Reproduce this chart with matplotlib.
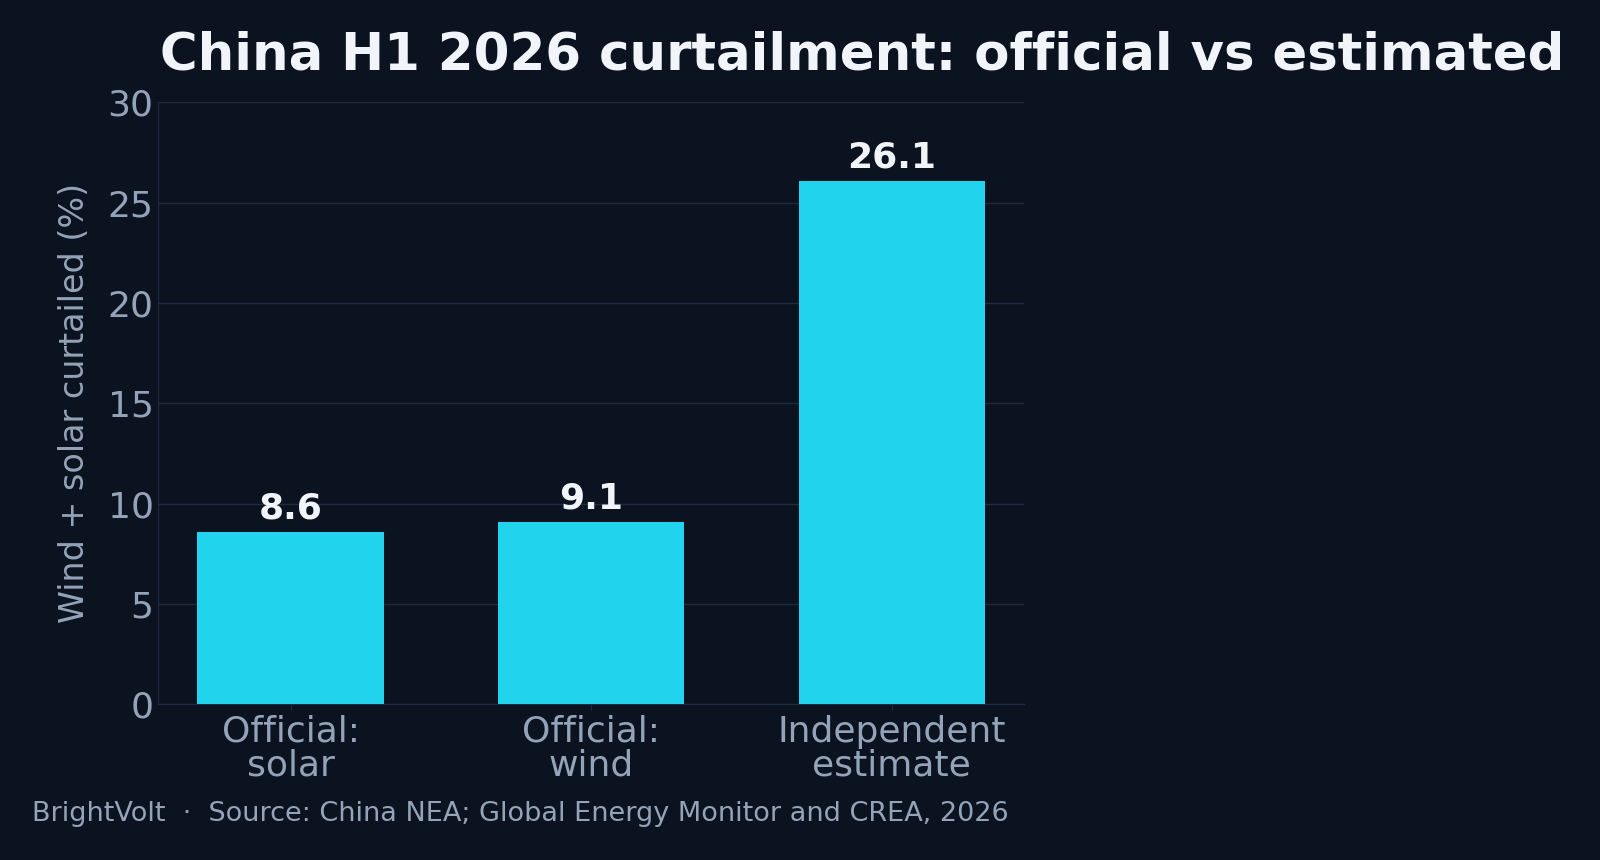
import matplotlib.pyplot as plt

categories = ['Official:\nsolar', 'Official:\nwind', 'Independent\nestimate']
values = [8.6, 9.1, 26.1]
yticks = [0, 5, 10, 15, 20, 25, 30]

bg = '#0b1320'
bar_color = '#22d3ee'
grid_color = '#1e2b42'
muted = '#94a3b8'
bright = '#f1f5f9'

fig = plt.figure(figsize=(16, 8.6), dpi=100, facecolor=bg)
ax = fig.add_axes([0.099, 0.181, 0.541, 0.7])
ax.set_facecolor(bg)

x = range(len(categories))
ax.bar(x, values, width=0.62, color=bar_color, zorder=3)
for xi, v in zip(x, values):
    ax.text(xi, v + 0.3, f'{v:.1f}', ha='center', va='bottom',
            fontsize=26, fontweight='bold', color=bright)

ax.set_ylim(0, 30)
ax.set_xlim(-0.44, 2.44)
ax.set_yticks(yticks)
ax.set_xticks(list(x))
ax.set_xticklabels(categories, linespacing=1.0)
ax.tick_params(colors=muted, labelsize=26, length=4)
ax.tick_params(axis='x', colors=grid_color, labelcolor=muted)
ax.tick_params(axis='y', length=0)
ax.grid(axis='y', color=grid_color, linewidth=1, zorder=0)
for s in ['top', 'right']:
    ax.spines[s].set_visible(False)
for s in ['left', 'bottom']:
    ax.spines[s].set_color(grid_color)
ax.set_ylabel('Wind + solar curtailed (%)', fontsize=24, color=muted, labelpad=12)

fig.text(0.1, 0.935, 'China H1 2026 curtailment: official vs estimated',
         fontsize=37, fontweight='bold', color=bright, va='center')
fig.text(0.02, 0.053, 'BrightVolt  ·  Source: China NEA; Global Energy Monitor and CREA, 2026',
         fontsize=19.5, color=muted, va='center')

fig.savefig('out.png', facecolor=bg)
